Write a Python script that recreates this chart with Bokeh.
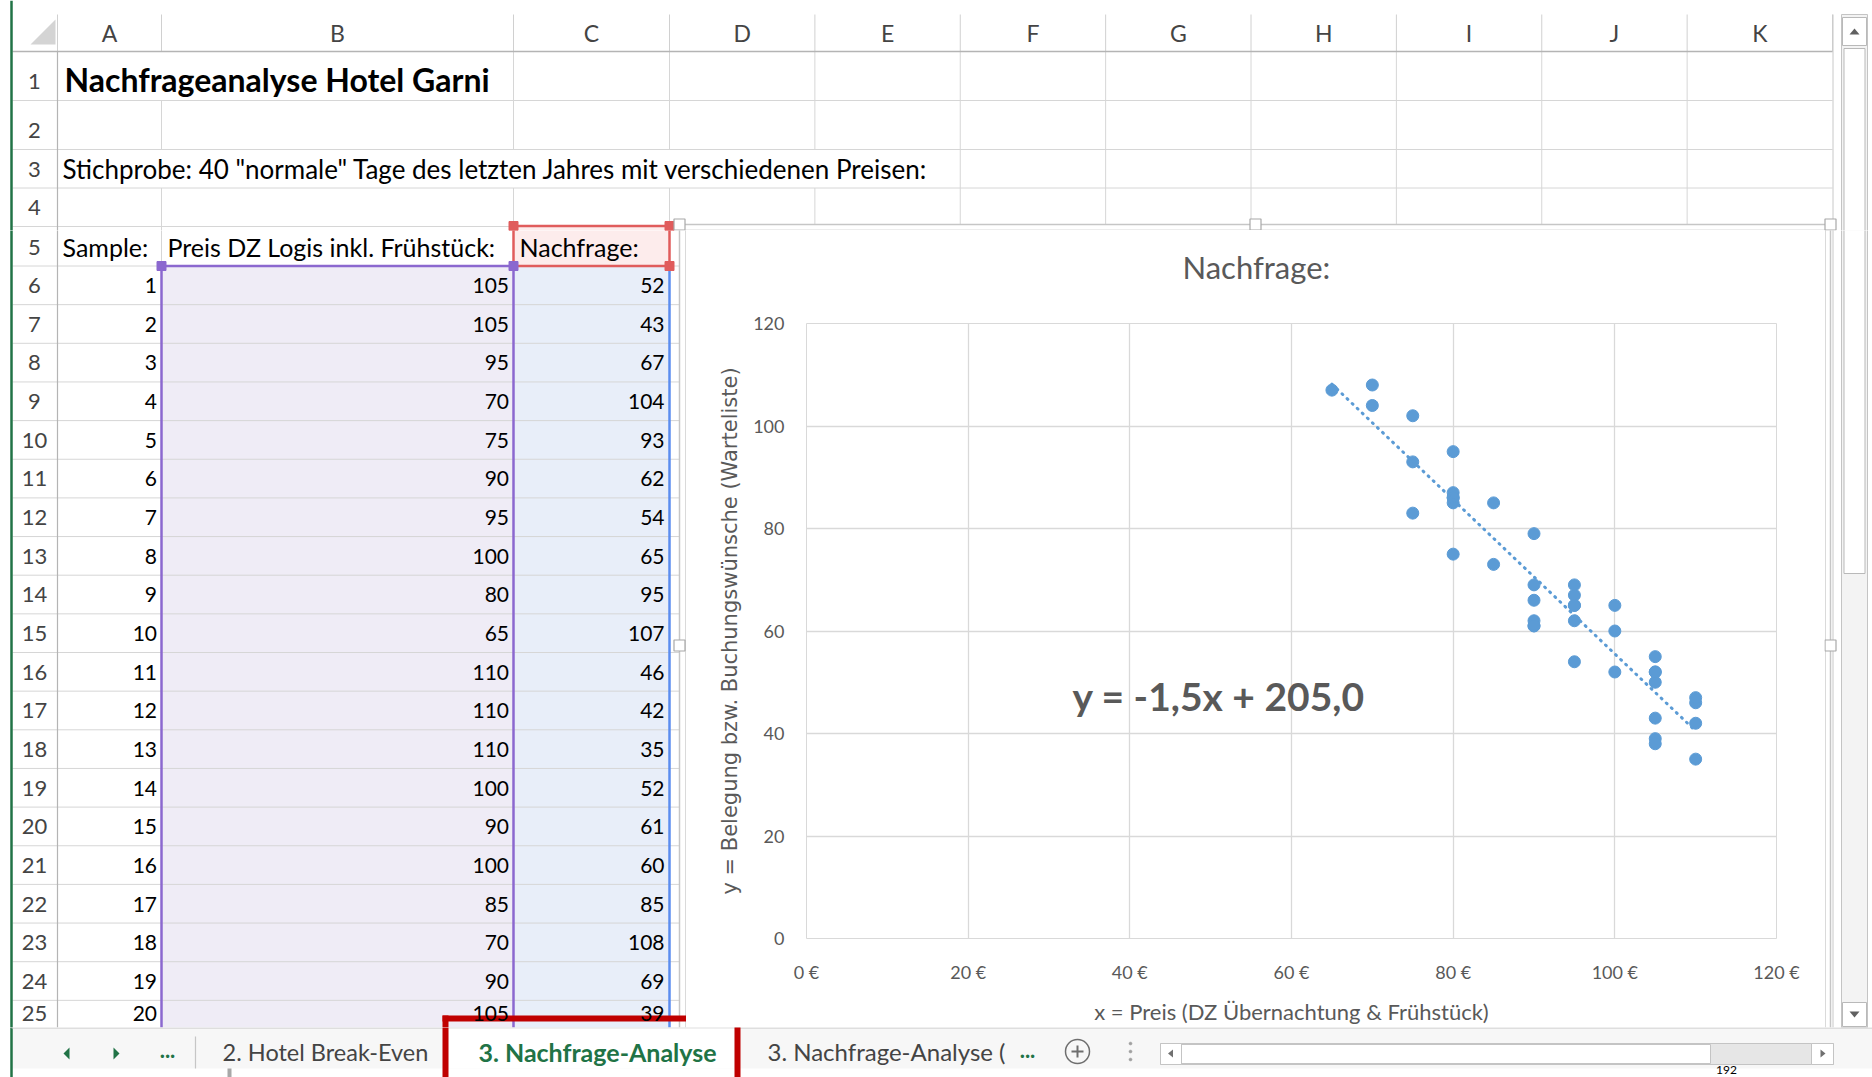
import itertools
import numpy as np
from bokeh.plotting import figure
from bokeh.models import Range1d, ColumnDataSource, FixedTicker, PrintfTickFormatter
from bokeh.layouts import column, row
from bokeh.core.properties import value
from bokeh.embed import file_html
from bokeh.resources import INLINE

# ------------------------------------------------------------------ data
sheet_title = "Nachfrageanalyse Hotel Garni"
sheet_note = 'Stichprobe: 40 "normale" Tage des letzten Jahres mit verschiedenen Preisen:'
header_labels = ["Sample:", "Preis DZ Logis inkl. Frühstück:", "Nachfrage:"]
column_letters = ["A", "B", "C", "D", "E", "F", "G", "H", "I", "J", "K"]
row_numbers = list(range(1, 26))

sample_no = list(range(1, 21))
preis_sichtbar = [105, 105, 95, 70, 75, 90, 95, 100, 80, 65, 110, 110, 110, 100, 90, 100, 85, 70, 90, 105]
nachfrage_sichtbar = [52, 43, 67, 104, 93, 62, 54, 65, 95, 107, 46, 42, 35, 52, 61, 60, 85, 108, 69, 39]
preis_weitere = [75, 75, 80, 80, 80, 80, 85, 90, 90, 95, 95, 95, 105, 105, 105, 110, 90, 95, 105, 80]
nachfrage_weitere = [102, 83, 87, 86, 85, 75, 73, 79, 66, 69, 65, 62, 55, 50, 38, 47, 61, 65, 52, 86]

chart_title = "Nachfrage:"
x_axis_title = "x = Preis (DZ Übernachtung & Frühstück)"
y_axis_title = "y = Belegung bzw. Buchungswünsche (Warteliste)"
x_ticks = [0, 20, 40, 60, 80, 100, 120]
y_ticks = [0, 20, 40, 60, 80, 100, 120]
equation_label = "y = -1,5x + 205,0"

sheet_tabs = ["2. Hotel Break-Even", "3. Nachfrage-Analyse", "3. Nachfrage-Analyse ("]
page_number = "192"

preis = preis_sichtbar + preis_weitere
nachfrage = nachfrage_sichtbar + nachfrage_weitere

# ------------------------------------------------------------------ styles
GREEN = "#217346"
GRID = "#d6d6d6"
HDR = "#b4b4b4"
PURPLE = "#8b68cf"
BLUE = "#5b8def"
RED = "#e05c5c"
DARK_RED = "#c00000"
CHART_GREY = "#595959"
MARKER = "#5b9bd5"
HDR_TXT = "#444444"

# geometry of the sheet (screenshot pixel space)
col_edges = [12, 57, 161, 513, 669] + [669 + 145.375 * k for k in range(1, 9)]
row_edges = [14, 51, 100, 149, 187.5, 226, 265.5] + [265.5 + 38.65 * k for k in range(1, 21)]
SHEET_BOTTOM = 1027
CH_L, CH_T, CH_R = 679, 224, 1830
CI_L, CI_T, CI_R = 685, 229.5, 1825

ops = []
texts = []


def quad(l, r, t, b, fill, line=None, lw=1.0):
    ops.append(("quad", dict(left=l, right=r, top=t, bottom=b, fill_color=fill,
                             line_color=line or fill, line_width=lw if line else 0.0,
                             line_alpha=1.0 if line else 0.0)))


def seg(x0, y0, x1, y1, color, lw=1.0):
    ops.append(("seg", dict(x0=x0, y0=y0, x1=x1, y1=y1, line_color=color, line_width=lw)))


def patch(pts, color):
    ops.append(("patch", dict(xs=[q[0] for q in pts], ys=[q[1] for q in pts], fill_color=color)))


def mark(x, y, marker, size, fill, line, lw=1.0):
    ops.append(("mark", dict(x=x, y=y, marker=marker, size=size, fill_color=fill or "#ffffff",
                             fill_alpha=1.0 if fill else 0.0, line_color=line, line_width=lw)))


def txt(x, y, s, size, color="#000000", align="left", bold=False, font="Lato"):
    texts.append(dict(x=x, y=y, text=s, size=size, color=color, align=align, bold=bold, font=font))


# backgrounds
quad(11, 1872, SHEET_BOTTOM, 1068, "#f7f7f7")
quad(col_edges[2], col_edges[3], row_edges[6], SHEET_BOTTOM, "#efecf6")
quad(col_edges[3], col_edges[4], row_edges[6], SHEET_BOTTOM, "#e8eef9")
quad(col_edges[3], col_edges[4], row_edges[5], row_edges[6], "#fdecec")
quad(CI_L, CI_R, CI_T, SHEET_BOTTOM, "#ffffff")

# gridlines
for e in range(1, 13):
    seg(col_edges[e], 14, col_edges[e], 51, "#d0d0d0")
for r in range(1, 5):
    for e in range(2, 12):
        if (r == 1 and e == 2) or (r == 3 and e in (2, 3, 4, 5)):
            continue
        yb = CH_T if (r == 4 and e >= 5) else row_edges[r + 1]
        seg(col_edges[e], row_edges[r], col_edges[e], yb, GRID)
seg(col_edges[2], row_edges[5], col_edges[2], row_edges[6], GRID)
for idx in range(2, 26):
    xr = col_edges[12] if idx <= 4 else CH_L
    seg(12, row_edges[idx], xr, row_edges[idx], GRID)
seg(1832.5, 14, 1832.5, SHEET_BOTTOM, "#c8c8c8")

# headers
seg(12, 51, 1832, 51, HDR, 1.5)
seg(57, 51, 57, SHEET_BOTTOM, HDR, 1.2)
seg(11, 0, 11, 1077, GREEN, 2.5)

# coloured range borders
seg(161, 265.5, 161, SHEET_BOTTOM, PURPLE, 2.5)
seg(513, 265.5, 513, SHEET_BOTTOM, PURPLE, 2.5)
seg(161, 265.5, 513, 265.5, PURPLE, 2.5)
seg(669, 265.5, 669, SHEET_BOTTOM, BLUE, 2.5)
for (a, b, c, d) in [(513, 225.5, 669, 225.5), (513, 265.5, 669, 265.5),
                     (513, 225.5, 513, 265.5), (669, 225.5, 669, 265.5)]:
    seg(a, b, c, d, RED, 2.5)

# chart object frame
seg(CH_L, CH_T, CH_R, CH_T, "#c6c6c6", 1.5)
seg(CH_L, CH_T, CH_L, SHEET_BOTTOM, "#c6c6c6", 1.5)
seg(CH_R, CH_T, CH_R, SHEET_BOTTOM, "#c6c6c6", 1.5)
seg(CI_L, CI_T, CI_R, CI_T, "#dadada")
seg(CI_L, CI_T, CI_L, SHEET_BOTTOM, "#dadada")
seg(CI_R, CI_T, CI_R, SHEET_BOTTOM, "#dadada")
seg(11, 1027.5, 1872, 1027.5, "#c6c6c6", 1.2)
seg(195, 1036, 195, 1068, "#c6c6c6", 1.2)
seg(229, 1068, 229, 1077, "#a8a8a8", 4)

# vertical scrollbar
quad(1841, 1867, 14, SHEET_BOTTOM, "#f3f3f3", "#c4c4c4", 1)
quad(1842, 1866, 17, 45, "#ffffff", "#b9b9b9", 1)
quad(1843.5, 1864.5, 48, 573, "#ffffff", "#b9b9b9", 1)
quad(1842, 1866, 1002, 1026, "#ffffff", "#b9b9b9", 1)

# sheet tabs
quad(448, 734, 1028, 1068, "#ffffff")
quad(442, 740, 1015, 1021, DARK_RED)
quad(442, 448, 1015, 1077, DARK_RED)
quad(734, 740, 1015, 1077, DARK_RED)
quad(1160, 1833, 1043, 1064, "#e6e6e6", "#c4c4c4", 1)
quad(1181, 1710, 1044, 1063, "#ffffff", "#c4c4c4", 1)
quad(1160, 1181, 1043, 1064, "#ffffff", "#c4c4c4", 1)
quad(1811, 1833, 1043, 1064, "#ffffff", "#c4c4c4", 1)

# small arrows
patch([(30, 44), (55, 44), (55, 19)], "#d4d4d4")
patch([(1849, 34), (1859, 34), (1854, 28)], "#606060")
patch([(1849, 1011), (1859, 1011), (1854, 1017)], "#606060")
patch([(69, 1047), (69, 1059), (63, 1053)], GREEN)
patch([(113, 1047), (113, 1059), (119, 1053)], GREEN)
patch([(1172.5, 1049), (1172.5, 1057), (1167.5, 1053)], "#707070")
patch([(1820, 1049), (1820, 1057), (1825, 1053)], "#707070")

# handles
for (hx, hy) in [(513, 225.5), (669, 225.5), (669, 265.5)]:
    mark(hx, hy, "square", 9, RED, RED)
for (hx, hy) in [(161, 265.5), (513, 265.5)]:
    mark(hx, hy, "square", 9, PURPLE, PURPLE)
for (hx, hy) in [(CH_L, CH_T), (1255, CH_T), (CH_R, CH_T), (CH_L, 645), (CH_R, 645)]:
    mark(hx, hy, "square", 11, "#ffffff", "#a8a8a8", 1.2)
mark(1077, 1051, "circle", 24, None, "#6e6e6e", 1.5)
mark(1077, 1051, "cross", 12, None, "#6e6e6e", 2)
for yy in (1043, 1051, 1059):
    mark(1130, yy, "circle", 3, "#a0a0a0", "#a0a0a0", 0.5)

# texts of the sheet
for i, letter in enumerate(column_letters):
    txt((col_edges[i + 1] + col_edges[i + 2]) / 2, 32.5, letter, "23px", HDR_TXT, "center")


def row_text_y(r):
    # the last visible row is only partly shown; keep its text inside the sheet area
    return min(row_edges[r + 1] - 19, SHEET_BOTTOM - 14)


for r in row_numbers:
    txt(34, row_text_y(r), str(r), "22px", HDR_TXT, "center")
txt(64, 79, sheet_title, "32px", "#000000", "left", bold=True)
txt(62, row_edges[4] - 19, sheet_note, "26px")
for xx, lab in zip([62, 167, 519], header_labels):
    txt(xx, row_edges[6] - 19, lab, "25px")
for k, (s, pr, na) in enumerate(zip(sample_no, preis_sichtbar, nachfrage_sichtbar)):
    yy = row_text_y(6 + k)
    txt(156.5, yy, str(s), "21px", align="right")
    txt(508.5, yy, str(pr), "21px", align="right")
    txt(664, yy, str(na), "21px", align="right")
txt(167, 1049, "...", "22px", GREEN, "center", bold=True)
txt(325, 1051, sheet_tabs[0], "23.5px", HDR_TXT, "center")
txt(597, 1051, sheet_tabs[1], "25px", GREEN, "center", bold=True)
txt(767, 1051, sheet_tabs[2], "24px", HDR_TXT, "left")
txt(1027, 1049, "...", "22px", GREEN, "center", bold=True)
txt(1726, 1069.5, page_number, "12px", "#000000", "center")


def no_align(p):
    try:
        p.frame_align = False
    except Exception:
        pass


def sheet_fig(x0, x1, y0, y1):
    p = figure(width=x1 - x0, height=y1 - y0, x_range=Range1d(x0, x1), y_range=Range1d(y1, y0),
               output_backend="svg", toolbar_location=None, tools="", min_border=0,
               x_axis_location=None, y_axis_location=None,
               background_fill_color="#ffffff", border_fill_color="#ffffff", outline_line_color=None)
    no_align(p)
    p.grid.visible = False
    for kind, grp in itertools.groupby(ops, key=lambda o: o[0]):
        items = [g[1] for g in grp]
        src = ColumnDataSource({k: [it[k] for it in items] for k in items[0]})
        if kind == "quad":
            p.quad(left="left", right="right", top="top", bottom="bottom", fill_color="fill_color",
                   line_color="line_color", line_width="line_width", line_alpha="line_alpha", source=src)
        elif kind == "seg":
            p.segment(x0="x0", y0="y0", x1="x1", y1="y1", line_color="line_color",
                      line_width="line_width", source=src)
        elif kind == "patch":
            p.patches(xs="xs", ys="ys", fill_color="fill_color", line_color=None, source=src)
        elif kind == "mark":
            p.scatter(x="x", y="y", marker="marker", size="size", fill_color="fill_color",
                      fill_alpha="fill_alpha", line_color="line_color", line_width="line_width", source=src)
    groups = {}
    for t in texts:
        if x0 <= t["x"] < x1 and y0 <= t["y"] < y1:
            key = (t["font"], t["size"], t["color"], t["align"], t["bold"])
            groups.setdefault(key, []).append(t)
    for (font, size, color, align, bold), items in groups.items():
        src = ColumnDataSource(dict(x=[t["x"] for t in items], y=[t["y"] for t in items],
                                    text=[t["text"] for t in items]))
        p.text(x="x", y="y", text="text", source=src, text_font=value(font), text_font_size=value(size),
               text_color=color, text_align=align, text_baseline="middle",
               text_font_style="bold" if bold else "normal")
    return p


top = sheet_fig(0, 1872, 0, 230)
left = sheet_fig(0, 686, 230, 1027)
right = sheet_fig(1824, 1872, 230, 1027)
bottom = sheet_fig(0, 1872, 1027, 1077)

# ------------------------------------------------------------------ chart
FR_L, FR_R, FR_T, FR_B = 806, 1776, 323, 946
chart = figure(width=1138, height=797, x_range=Range1d(0, 120), y_range=Range1d(0, 120),
               output_backend="svg", toolbar_location=None, tools="",
               min_border_left=FR_L - 686, min_border_right=1824 - FR_R,
               min_border_top=FR_T - 230, min_border_bottom=1027 - FR_B,
               background_fill_color="#ffffff", border_fill_color="#ffffff", outline_line_color="#d9d9d9")
no_align(chart)
chart.title.text = chart_title + "\n\u00a0"
chart.title.text_font = "Lato"
chart.title.text_font_size = "31px"
chart.title.text_font_style = "normal"
chart.title.text_color = CHART_GREY
chart.title.align = "left"
chart.title.offset = 376
chart.title.standoff = 0

chart.xaxis.ticker = FixedTicker(ticks=x_ticks)
chart.xaxis.formatter = PrintfTickFormatter(format="%d €")
chart.yaxis.ticker = FixedTicker(ticks=y_ticks)
for ax in (chart.xaxis[0], chart.yaxis[0]):
    ax.axis_line_color = None
    ax.major_tick_line_color = None
    ax.minor_tick_line_color = None
    ax.major_tick_out = 0
    ax.major_tick_in = 0
    ax.minor_tick_out = 0
    ax.major_label_text_color = CHART_GREY
    ax.major_label_text_font = "Lato"
    ax.major_label_text_font_size = "18px"
    ax.axis_label_text_color = CHART_GREY
    ax.axis_label_text_font_style = "normal"
chart.xaxis.axis_label = x_axis_title
chart.xaxis.axis_label_text_font = "Lato"
chart.xaxis.axis_label_text_font_size = "22px"
chart.xaxis.major_label_standoff = 22
chart.xaxis.axis_label_standoff = 12
chart.yaxis.axis_label = y_axis_title
chart.yaxis.axis_label_text_font = "DejaVu Sans"
chart.yaxis.axis_label_text_font_size = "21px"
chart.yaxis.major_label_standoff = 22
chart.yaxis.axis_label_standoff = 8
chart.grid.grid_line_color = "#d9d9d9"
chart.grid.grid_line_width = 1.3

chart.scatter(preis, nachfrage, size=12, fill_color=MARKER, line_color=MARKER)
coef = np.polyfit(preis, nachfrage, 1)
tx = np.array([min(preis), max(preis)], dtype=float)
chart.line(tx, coef[0] * tx + coef[1], line_color=MARKER, line_width=3, line_dash="1 6", line_cap="round")
chart.text(x=[51], y=[47.4], text=[equation_label], text_font=value("Lato"), text_font_size=value("39px"),
           text_font_style="bold", text_color=CHART_GREY, text_align="center", text_baseline="middle")

layout = column(top, row(left, chart, right), bottom)
open("out.html", "w").write(file_html(layout, INLINE))
